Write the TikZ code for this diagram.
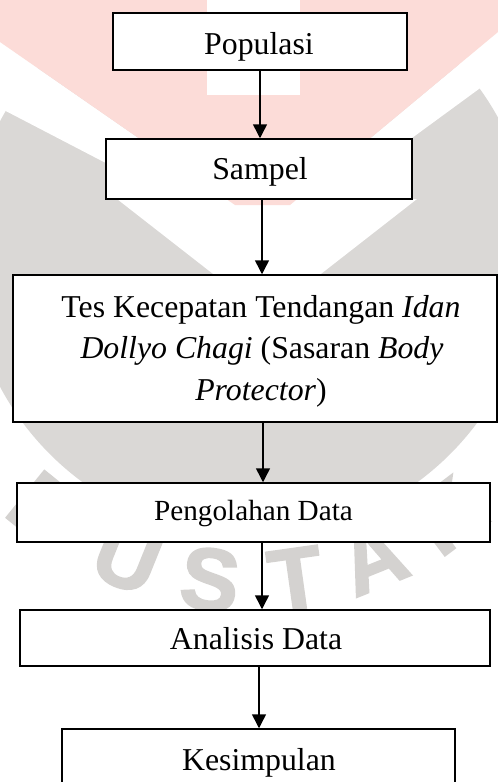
\documentclass[tikz,border=0pt]{standalone}
\usepackage{fontspec}
\setmainfont{Liberation Serif}
\newfontfamily\wmfont{Liberation Sans}[UprightFont=* Bold, FakeBold=2]
\usetikzlibrary{arrows.meta}
\definecolor{wmgray}{RGB}{218,216,214}
\definecolor{wmpink}{RGB}{252,220,216}
\definecolor{wmletter}{RGB}{212,210,208}
\tikzset{
  box/.style={draw=black, fill=white, line width=1.5pt, inner sep=0pt, rectangle},
  lbl/.style={anchor=base, inner sep=0pt, font=\fontsize{31.8}{41.5}\selectfont},
  arr/.style={line width=1.5pt, -{Triangle[length=14pt,width=14pt]}},
  wm/.style={font=\wmfont\fontsize{88}{88}\selectfont, text=wmletter, inner sep=0pt}
}
\begin{document}
\begin{tikzpicture}[x=1pt,y=-1pt]
\useasboundingbox (0,0) rectangle (498,782);
\clip (0,0) rectangle (498,782);
% watermark (faint background)
\fill[wmgray] (250,254) circle[radius=283];
\fill[white] (117,199) -- (417,199) -- (317,277) -- (217,277) -- cycle;
\fill[white] (0,42) -- (235,205) -- (225,225) -- (0,108) -- cycle;
\fill[white] (498,32) -- (290,205) -- (300,220) -- (498,75) -- cycle;
\fill[wmpink] (0,0) -- (498,0) -- (498,32) -- (290,205) -- (235,205) -- (0,42) -- cycle;
\fill[white] (207,0) rectangle (300,95);
\foreach \ang/\ch in {129/P,112/U,97/S,82/T,68/A,53/K}
  \node[wm, rotate={90-\ang}] (wm\ang) at ([shift={(\ang:328)}]250,254) {\ch};
% boxes
\node[box, minimum width=294pt, minimum height=57pt]  (b1) at (260,41.5)  {};
\node[box, minimum width=306pt, minimum height=60pt]  (b2) at (259,169)   {};
\node[box, minimum width=484pt, minimum height=147pt] (b3) at (255,348.5) {};
\node[box, minimum width=473pt, minimum height=59pt]  (b4) at (253.5,512.5) {};
\node[box, minimum width=470pt, minimum height=56pt]  (b5) at (255,638)   {};
\node[box, minimum width=393pt, minimum height=100pt] (b6) at (258.5,779) {};
% texts
\node[lbl] (t1)  at (259,54)    {Populasi};
\node[lbl] (t2)  at (260,179)   {Sampel};
\node[lbl] (t3a) at (261,317.3) {Tes Kecepatan Tendangan \textit{Idan}};
\node[lbl] (t3b) at (262,358.3) {\textit{Dollyo Chagi} (Sasaran \textit{Body}};
\node[lbl] (t3c) at (261,400)   {\textit{Protector})};
\node[lbl, font=\fontsize{29.2}{35}\selectfont] (t4) at (253.5,520.7) {Pengolahan Data};
\node[lbl] (t5)  at (256,649.3) {Analisis Data};
\node[lbl] (t6)  at (259,770)   {Kesimpulan};
% arrows
\draw[arr] (260,0 |- b1.south) -- (260,0 |- b2.north);
\draw[arr] (262,0 |- b2.south) -- (262,0 |- b3.north);
\draw[arr] (263,0 |- b3.south) -- (263,0 |- b4.north);
\draw[arr] (262,0 |- b4.south) -- (262,0 |- b5.north);
\draw[arr] (259,0 |- b5.south) -- (259,0 |- b6.north);
\end{tikzpicture}
\end{document}
